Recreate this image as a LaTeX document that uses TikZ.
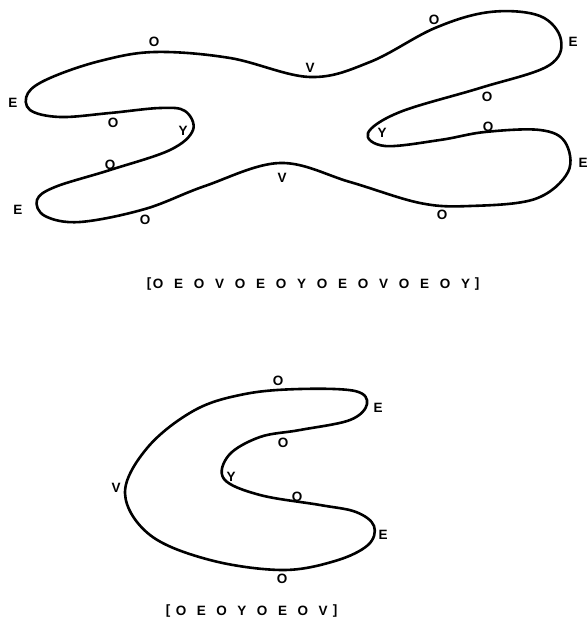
\documentclass[tikz,border=0pt]{standalone}
\usepackage{fontspec}
\setmainfont{Liberation Sans}
\begin{document}
\begin{tikzpicture}[x=1pt,y=-1pt,
  curve/.style={line width=2.6pt,line join=round},
  lab/.style={font=\bfseries\fontsize{13.5}{13.5}\selectfont,inner sep=0pt}]
\useasboundingbox (0,0) rectangle (586,628);
% upper curve
\draw[curve] plot[smooth cycle,tension=0.6] coordinates {
 (155,52) (230,58) (310,77) (370,62) (435,28) (490,12) (540,16) (561,40)
 (548,66) (480,88) (400,112) (368,133) (385,146) (440,140) (485,132)
 (540,130) (565,142) (568,172) (535,199) (470,206) (420,203) (350,182)
 (280,163) (205,186) (145,209) (80,222) (45,216) (37,200) (55,187)
 (110,170) (170,150) (193,130) (185,111) (160,108) (110,113) (60,117)
 (30,110) (28,93) (50,78) (100,61)};
\node[lab] (u1) at (154,42) {O};
\node[lab] (u2) at (13,103) {E};
\node[lab] (u3) at (113,123) {O};
\node[lab] (u4) at (183,131) {Y};
\node[lab] (u5) at (110,165) {O};
\node[lab] (u6) at (18,210) {E};
\node[lab] (u7) at (145,220) {O};
\node[lab] (u8) at (282,178) {V};
\node[lab] (u9) at (310,68) {V};
\node[lab] (u10) at (434,20) {O};
\node[lab] (u11) at (573,42) {E};
\node[lab] (u12) at (487,97) {O};
\node[lab] (u13) at (382,133) {Y};
\node[lab] (u14) at (488,127) {O};
\node[lab] (u15) at (583,163) {E};
\node[lab] (u16) at (442,215) {O};
% upper caption
\node[lab] (ub1) at (149,284) {[};
\foreach \c [count=\i from 0] in {O,E,O,V,O,E,O,Y,O,E,O,V,O,E,O,Y}
  \node[lab] (uc\i) at (158+20.5*\i,284) {\c};
\node[lab] (ub2) at (477,284) {]};
% lower curve
\draw[curve] plot[smooth cycle,tension=0.6] coordinates {
 (300,389) (355,391) (367,404) (350,420) (300,430) (260,437) (229,455)
 (224,479) (260,495) (320,505) (356,512) (374,526) (368,545) (335,561) (282,570)
 (210,560) (150,535) (125,493) (148,447) (195,410) (245,394)};
\node[lab] (l1) at (278,381) {O};
\node[lab] (l2) at (378,408) {E};
\node[lab] (l3) at (283,443) {O};
\node[lab] (l4) at (231,477) {Y};
\node[lab] (l5) at (297,497) {O};
\node[lab] (l6) at (383,535) {E};
\node[lab] (l7) at (282,579) {O};
\node[lab] (l8) at (116,488) {V};
% lower caption
\node[lab] (lb1) at (168,611) {[};
\foreach \c [count=\i from 0] in {O,E,O,Y,O,E,O,V}
  \node[lab] (lc\i) at (181+20.3*\i,611) {\c};
\node[lab] (lb2) at (335,611) {]};
\end{tikzpicture}
\end{document}
